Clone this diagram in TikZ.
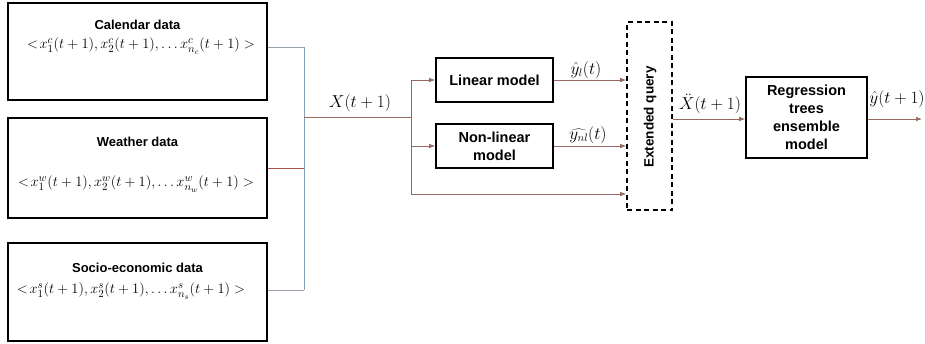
\documentclass[tikz,border=0pt]{standalone}
\usepackage{fontspec}
\setsansfont{Liberation Sans}
\usetikzlibrary{arrows.meta}
\definecolor{brn}{RGB}{150,105,95}
\definecolor{blu}{RGB}{130,160,185}
\definecolor{gry}{RGB}{150,160,170}
\tikzset{
  box/.style={draw=black, line width=1.6pt, inner sep=0pt},
  lbl/.style={font=\sffamily\bfseries\fontsize{13}{18}\selectfont, align=center},
  mlbl/.style={font=\sffamily\bfseries\fontsize{14.5}{18}\selectfont, align=center},
  mth/.style={font=\fontsize{15.5}{17}\selectfont, inner sep=1pt},
  mthl/.style={font=\fontsize{16}{18}\selectfont, inner sep=0.5pt},
  conn/.style={draw=brn, line width=0.7pt},
  arr/.style={conn, -{Latex[length=6pt,width=4.5pt]}},
}
\begin{document}
\begin{tikzpicture}[x=1pt,y=-1pt]
\useasboundingbox (0,0) rectangle (925,343);
% input boxes
\node[box, minimum width=259pt, minimum height=97pt] (cal) at (137.5,51.5) {};
\node[box, minimum width=259pt, minimum height=100pt] (wea) at (137.5,168) {};
\node[box, minimum width=259pt, minimum height=98pt] (soc) at (137.5,292) {};
\node[lbl] (calt) at (137.5,25) {Calendar data};
\node[mth] (calf) at (141,46) {$<\!x_1^c(t+1), x_2^c(t+1), \ldots x_{n_c}^c(t+1) >$};
\node[lbl] (weat) at (137.5,142) {Weather data};
\node[mth] (weaf) at (136,184) {$<\!x_1^w(t+1), x_2^w(t+1), \ldots x_{n_w}^w(t+1) >$};
\node[lbl] (soct) at (137.5,268) {Socio-economic data};
\node[mth] (socf) at (131,291) {$<\!x_1^s(t+1), x_2^s(t+1), \ldots x_{n_s}^s(t+1) >$};
% bus
\coordinate (bt) at (304,47);
\coordinate (bm) at (304,117);
\coordinate (bb) at (304,290);
\coordinate (sp) at (411,117);
\coordinate (spt) at (411,80);
\coordinate (spb) at (411,194);
% models
\node[box, mlbl, minimum width=117pt, minimum height=44pt] (lin) at (494.5,80) {Linear model};
\node[box, mlbl, minimum width=117pt, minimum height=44pt] (nl) at (494.5,146) {Non-linear\\model};
\node[draw=black, line width=1.6pt, dash pattern=on 5pt off 3.5pt, minimum width=45pt, minimum height=188pt, inner sep=0pt] (eq) at (649.5,116) {};
\node[font=\sffamily\bfseries\fontsize{13.5}{16}\selectfont, rotate=90] (eqt) at (650,117) {Extended query};
\node[box, mlbl, minimum width=121pt, minimum height=81pt] (reg) at (806.5,117.5) {Regression\\trees\\ensemble\\model};
\coordinate (out) at (922,119);
% connectors left
\draw[draw=gry, line width=0.7pt] (cal.east |- bt) -- (bt);
\draw[draw=blu, line width=0.8pt] (bt) -- (bb);
\draw[draw=brn!80!red, line width=0.7pt] (wea.east) -- (wea.east -| bt);
\draw[draw=gry, line width=0.7pt] (soc.east |- bb) -- (bb);
\draw[conn] (bm) -- (sp);
\node[mthl] (xl) at (360,103) {$X(t+1)$};
% split
\draw[conn] (spt) -- (spb);
\draw[arr] (spt) -- (lin.west);
\draw[arr] (spb |- nl.west) -- (nl.west);
\draw[arr] (spb) -- (eq.west |- spb);
\draw[arr] (lin.east) -- (eq.west |- lin.east);
\draw[arr] (nl.east) -- (eq.west |- nl.east);
\node[mthl] (yl) at (586,70) {$\hat{y}_l(t)$};
\node[mthl] (ynl) at (588,135) {$\widehat{y_{nl}}(t)$};
\draw[arr] (eq.east |- out) -- (reg.west |- out);
\node[mthl] (xdd) at (710,104) {$\ddot{X}(t+1)$};
\draw[arr] (reg.east |- out) -- (out);
\node[mthl] (yh) at (897,99) {$\hat{y}(t+1)$};
\end{tikzpicture}
\end{document}
